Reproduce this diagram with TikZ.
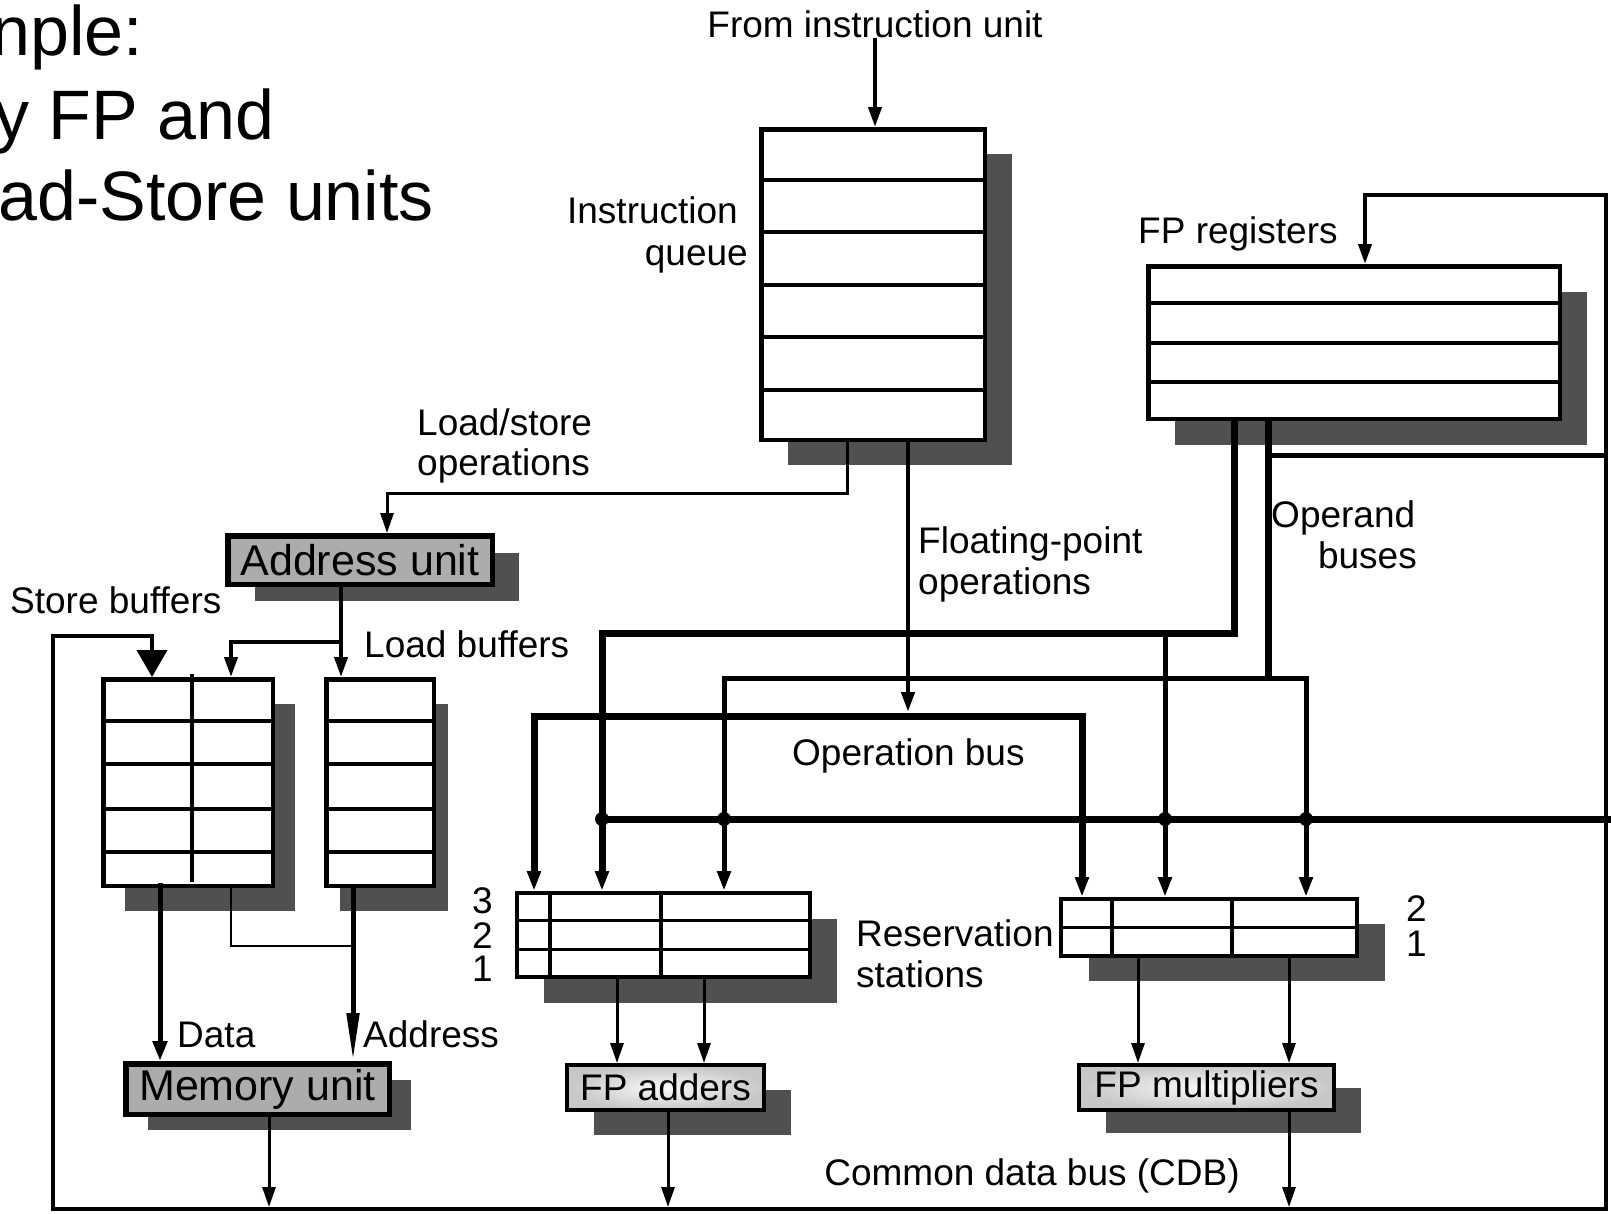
\documentclass[tikz,border=0pt]{standalone}
\usepackage{fontspec}
\setmainfont{Liberation Sans}
\usetikzlibrary{arrows.meta,shadows,calc}

\definecolor{shadowgray}{RGB}{80,80,80}
\definecolor{unitgray}{RGB}{172,172,172}

\newcommand\lblfont{\fontsize{37}{44}\selectfont}
\newcommand\unitfont{\fontsize{43}{50}\selectfont}
\newcommand\titlefont{\fontsize{70}{84}\selectfont}

\begin{document}
\begin{tikzpicture}
[
	x=1pt, y=-1pt,
	>={Triangle[length=20pt,width=13pt]},
	boxshadow/.style 2 args={drop shadow={shadow xshift=#1,shadow yshift=#2,fill=shadowgray,opacity=1}},
	regbox/.style={draw, fill=white, line width=4.5pt, inner sep=0pt, anchor=north west},
	unitbox/.style={draw, fill=unitgray, line width=5.5pt, inner sep=0pt, anchor=north west, font=\unitfont},
	fubox/.style={draw, inner color=black!2, outer color=black!22, line width=4pt, inner sep=0pt, anchor=north west, font=\lblfont},
	rowline/.style={line width=4pt},
	bus/.style={line width=7pt},
	midbus/.style={line width=5pt},
	wire/.style={line width=3pt},
	thinwire/.style={line width=1.8pt},
	lbl/.style={font=\lblfont, inner sep=0pt},
	numlbl/.style={font=\lblfont, inner sep=0pt, text height=24pt, text depth=0pt},
	ttl/.style={font=\titlefont, inner sep=0pt}
]

% Fix page size
\useasboundingbox (0,0) rectangle (1611,1213);

% Draw title
\node[ttl, anchor=base west] (ttl1) at (-9,55) {nple:};
\node[ttl, anchor=base west] (ttl2) at (-6,139) {y FP and};
\node[ttl, anchor=base west] (ttl3) at (-2,220) {ad-Store units};

% Draw boxes
\node[regbox, boxshadow={27pt}{-25pt}, minimum width=223.5pt, minimum height=310.5pt] (iq) at (759,127) {};
\node[regbox, boxshadow={27pt}{-26pt}, minimum width=411.5pt, minimum height=152.5pt] (fpr) at (1146,264) {};
\node[unitbox, boxshadow={27pt}{-17pt}, minimum width=264.5pt, minimum height=48.5pt] (addr) at (225,533) {Address unit};
\node[regbox, boxshadow={22pt}{-25pt}, minimum width=169.5pt, minimum height=206.5pt] (sb) at (101,677) {};
\node[regbox, boxshadow={14pt}{-25pt}, minimum width=107.5pt, minimum height=206.5pt] (lb) at (324,677) {};
\node[unitbox, boxshadow={22pt}{-16pt}, minimum width=263.5pt, minimum height=50.5pt] (mem) at (123,1061) {Memory unit};
\node[regbox, line width=4pt, boxshadow={27pt}{-26pt}, minimum width=293pt, minimum height=84pt] (rsa) at (515,891) {};
\node[regbox, line width=4pt, boxshadow={28pt}{-25pt}, minimum width=296pt, minimum height=57pt] (rsm) at (1059,897) {};
\node[fubox, boxshadow={27pt}{-25pt}, minimum width=197pt, minimum height=45pt] (fpa) at (565,1063) {FP adders};
\node[fubox, boxshadow={27pt}{-23pt}, minimum width=255pt, minimum height=45pt] (fpm) at (1077,1063) {FP multipliers};

% Draw rows
\foreach \i in {1,...,5}
	\draw[rowline] ($(iq.north west)!\i/6!(iq.south west)$) -- ($(iq.north east)!\i/6!(iq.south east)$);
\foreach \i in {1,2,3}
	\draw[rowline] ($(fpr.north west)!\i/4!(fpr.south west)$) -- ($(fpr.north east)!\i/4!(fpr.south east)$);
\foreach \yy in {721,764,809,852} {
	\draw[rowline] (sb.west |- 0,\yy) -- (sb.east |- 0,\yy);
	\draw[rowline] (lb.west |- 0,\yy) -- (lb.east |- 0,\yy);
}
\draw[rowline] (192,674) -- (192,882);
\foreach \i in {1,2}
	\draw[line width=3.5pt] ($(rsa.north west)!\i/3!(rsa.south west)$) -- ($(rsa.north east)!\i/3!(rsa.south east)$);
\foreach \xx in {550,661}
	\draw[line width=3.5pt] (rsa.north -| \xx,0) -- (rsa.south -| \xx,0);
\draw[line width=3.5pt] (rsm.west) -- (rsm.east);
\foreach \xx in {1112,1232}
	\draw[line width=3.5pt] (rsm.north -| \xx,0) -- (rsm.south -| \xx,0);

% Draw labels
\node[lbl, anchor=base] (fromiu) at (875,37) {From instruction unit};
\node[lbl, anchor=base east] (iqlbl1) at (738,223) {Instruction};
\node[lbl, anchor=base east] (iqlbl2) at (748,265) {queue};
\node[lbl, anchor=base west] (fprlbl) at (1138,243) {FP registers};
\node[lbl, anchor=base west] (lslbl1) at (417,435) {Load/store};
\node[lbl, anchor=base west] (lslbl2) at (417,475) {operations};
\node[lbl, anchor=base west] (fplbl1) at (918,553) {Floating-point};
\node[lbl, anchor=base west] (fplbl2) at (918,594) {operations};
\node[lbl, anchor=base west] (oplbl1) at (1271,527) {Operand};
\node[lbl, anchor=base east] (oplbl2) at (1417,568) {buses};
\node[lbl, anchor=base west] (obuslbl) at (792,765) {Operation bus};
\node[lbl, anchor=base west] (rslbl1) at (856,946) {Reservation};
\node[lbl, anchor=base west] (rslbl2) at (856,987) {stations};
\node[numlbl, anchor=base east] (rsa3) at (493,913) {3};
\node[numlbl, anchor=base east] (rsa2) at (493,948) {2};
\node[numlbl, anchor=base east] (rsa1) at (493,981) {1};
\node[numlbl, anchor=base west] (rsm2) at (1406,921) {2};
\node[numlbl, anchor=base west] (rsm1) at (1406,956) {1};
\node[lbl, anchor=base] (cdblbl) at (1032,1185) {Common data bus (CDB)};
\node[lbl, anchor=base west] (sblbl) at (10,613) {Store buffers};
\node[lbl, anchor=base west] (lblbl) at (364,657) {Load buffers};
\node[lbl, anchor=base west] (datalbl) at (177,1047) {Data};
\node[lbl, anchor=base west] (addrlbl) at (363,1047) {Address};

% Instruction input
\draw[line width=4pt, ->] (fromiu.south) -- (fromiu.south |- iq.north);

% Load/store operations
\coordinate (lsturn) at (847,493);
\coordinate (lsdown) at (387,493);
\draw[wire, ->] (lsturn |- iq.south) -- (lsturn) -- (lsdown) -- (lsdown |- addr.north);

% Floating-point operations
\coordinate (fpop) at (908,712);
\draw[line width=4.5pt, ->] (fpop |- iq.south) -- (fpop);

% Operation bus
\coordinate (opL) at (534,716);
\coordinate (opR) at (1082,716);
\draw[bus, <->] (opL |- rsa.north) -- (opL) -- (opR) -- (opR |- rsm.north);

% Operand buses
\coordinate (ob1) at (1234,633);
\coordinate (ob1L) at (602,633);
\coordinate (ob1R) at (1165,633);
\draw[bus, ->] (ob1 |- fpr.south) -- (ob1) -- (ob1L) -- (ob1L |- rsa.north);
\draw[midbus, ->] (ob1R) -- (ob1R |- rsm.north);
\coordinate (ob2) at (1268,678);
\coordinate (ob2L) at (724,678);
\coordinate (ob2R) at (1306,678);
\draw[bus] (ob2 |- fpr.south) -- (ob2);
\draw[midbus, <->] (ob2L |- rsa.north) -- (ob2L) -- (ob2R) -- (ob2R |- rsm.north);

% Common data bus
\coordinate (cdbR) at (1611,819);
\draw[bus] (ob1L |- cdbR) -- (cdbR);
\foreach \xx in {602,724,1165,1306}
	\fill (\xx,819) circle (7pt);
\coordinate (cdbTR) at (1606,195);
\coordinate (fprin) at (1365,195);
\coordinate (cdbBR) at (1606,1209);
\coordinate (cdbBL) at (53,1209);
\coordinate (cdbTL) at (53,636);
\coordinate (sbin) at (152,636);
\draw[line width=4pt, {Triangle[length=27pt,width=30pt]}-{Triangle[length=20pt,width=13pt]}] (sbin |- sb.north) -- (sbin) -- (cdbTL) -- (cdbBL) -- (cdbBR) -- (cdbTR) -- (fprin) -- (fprin |- fpr.north);
\coordinate (cdbreg) at (1606,455);
\draw[midbus] (cdbreg) -- (ob2 |- cdbreg);

% Address unit to buffers
\coordinate (abr) at (341,642);
\coordinate (abl) at (231,642);
\draw[line width=4pt, ->] (abr |- addr.south) -- (abr |- lb.north);
\draw[line width=4pt, ->] (abr) -- (abl) -- (abl |- sb.north);

% Buffers to memory unit
\coordinate (datax) at (160,883);
\draw[midbus, -{Triangle[length=20pt,width=14pt]}] (datax) -- (datax |- mem.north);
\coordinate (addrx) at (353,946);
\draw[midbus, -{Triangle[length=48pt,width=12pt]}] (addrx |- lb.south) -- (addrx |- mem.north);
\coordinate (sbout) at (231,946);
\draw[thinwire] (sbout |- sb.south) -- (sbout) -- (addrx);

% Reservation stations to units
\foreach \xx in {617,704}
	\draw[wire, ->] (rsa.south -| \xx,0) -- (fpa.north -| \xx,0);
\foreach \xx in {1138,1289}
	\draw[wire, ->] (rsm.south -| \xx,0) -- (fpm.north -| \xx,0);

% Results to the CDB
\coordinate (memout) at (269,1207);
\coordinate (fpaout) at (668,1207);
\coordinate (fpmout) at (1289,1207);
\draw[wire, ->] (memout |- mem.south) -- (memout);
\draw[wire, ->] (fpaout |- fpa.south) -- (fpaout);
\draw[wire, ->] (fpmout |- fpm.south) -- (fpmout);

\end{tikzpicture}
\end{document}
